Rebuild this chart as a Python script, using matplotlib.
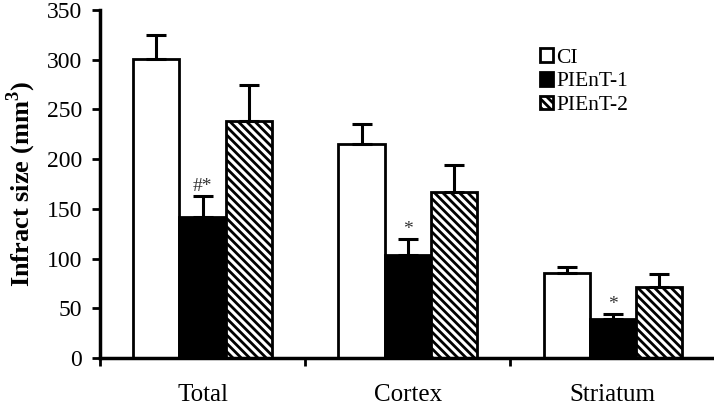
import numpy as np
import matplotlib.pyplot as plt

plt.rcParams['font.family'] = ['Liberation Serif', 'DejaVu Serif']
plt.rcParams['mathtext.fontset'] = 'custom'
plt.rcParams['mathtext.bf'] = 'Liberation Serif:bold'
plt.rcParams['mathtext.rm'] = 'Liberation Serif'
plt.rcParams['hatch.linewidth'] = 2.0

regions = ['Total', 'Cortex', 'Striatum']
groups = ['CI', 'PIEnT-1', 'PIEnT-2']
ci = [301, 215, 86]
ci_err = [24, 20, 6]
pient1 = [142, 104, 39]
pient1_err = [21, 16, 5]
pient2 = [238, 167, 71]
pient2_err = [37, 27, 13]
marks = ['#*', '*', '*']

fig = plt.figure(figsize=(7.14, 4.08), dpi=100)
ax = fig.add_axes([0.14, 0.1225, 0.862, 0.853])

x = np.arange(len(regions))
w = 0.225
styles = [dict(color='white', edgecolor='black'),
          dict(color='black', edgecolor='black'),
          dict(color='white', edgecolor='black', hatch='\\\\\\\\')]
for i, (vals, errs, st, name) in enumerate(zip([ci, pient1, pient2],
                                               [ci_err, pient1_err, pient2_err],
                                               styles, groups)):
    pos = x + (i - 1) * w
    ax.bar(pos, vals, w, linewidth=2, label=name, zorder=2, **st)
    ax.errorbar(pos, vals, yerr=[np.zeros(len(errs)), errs], fmt='none',
                ecolor='black', elinewidth=2.2, capsize=7, capthick=2.2, zorder=3)

for xi, v, e, m in zip(x, pient1, pient1_err, marks):
    ax.text(xi, v + e + 1, m, ha='center', va='bottom', fontsize=14, color='#333333')

ax.set_ylim(0, 350)
ax.set_yticks(np.arange(0, 351, 50))
ax.set_xlim(-0.5, 2.5)
ax.set_xticks([-0.5, 0.5, 1.5, 2.5])
ax.set_xticklabels([])
ax.set_xticks(x, minor=True)
ax.set_xticklabels(regions, minor=True)
ax.tick_params(axis='x', which='minor', length=0, pad=19, labelsize=18)
ax.tick_params(axis='x', which='major', direction='out', length=6, width=2)
ax.tick_params(axis='y', direction='out', length=6, width=2, labelsize=17, pad=7)
for s in ['top', 'right']:
    ax.spines[s].set_visible(False)
for s in ['left', 'bottom']:
    ax.spines[s].set_linewidth(2.5)

ax.set_ylabel('Infract size (mm$^\\mathbf{3}$)', fontsize=19, fontweight='bold', labelpad=6)

ax.legend(loc='upper left', bbox_to_anchor=(0.715, 0.89), frameon=False, fontsize=15.5,
          borderaxespad=0, borderpad=0, handlelength=0.6, handleheight=0.6,
          handletextpad=0.15, labelspacing=0.2)

fig.savefig('out.png', dpi=100)
